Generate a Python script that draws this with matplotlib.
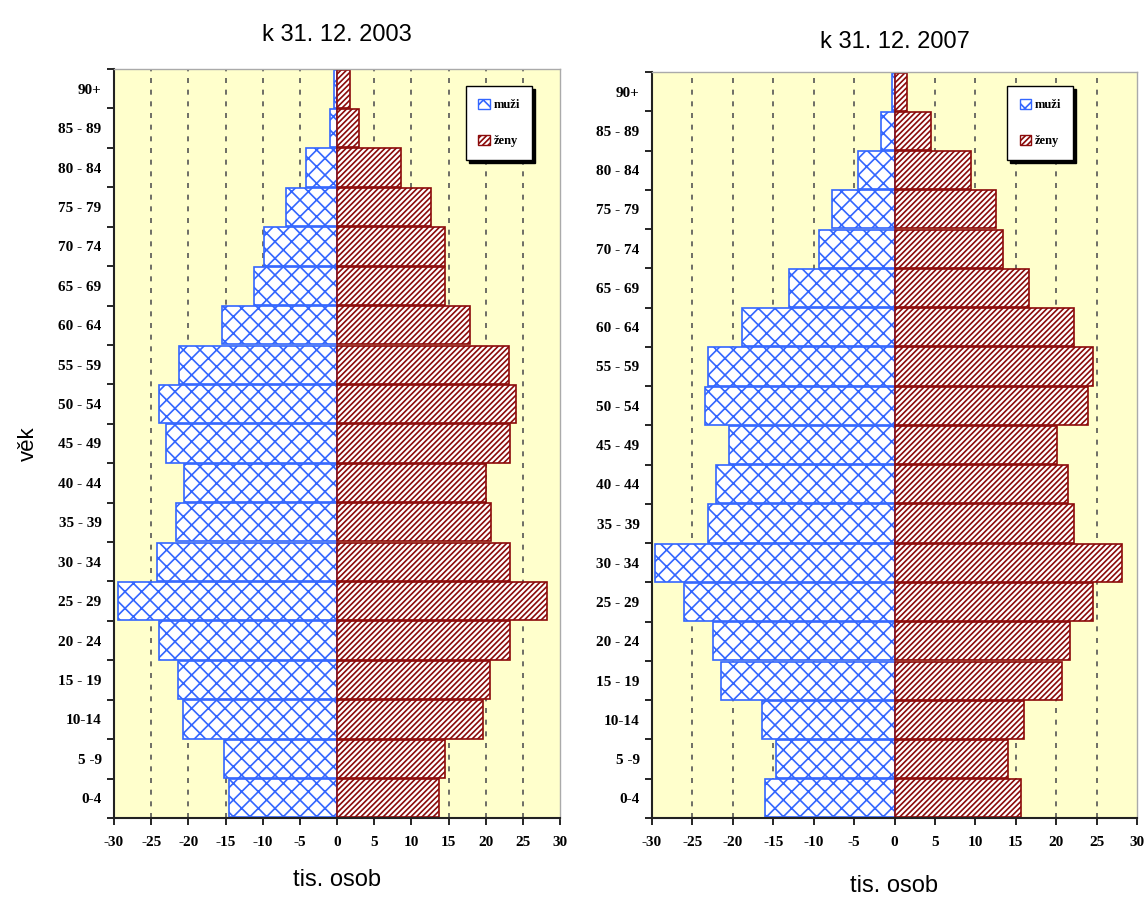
import matplotlib
matplotlib.use("Agg")
import matplotlib.pyplot as plt
import numpy as np
from matplotlib.patches import Patch

age_groups = ["0-4", "5 -9", "10-14", "15 - 19", "20 - 24", "25 - 29", "30 - 34",
              "35 - 39", "40 - 44", "45 - 49", "50 - 54", "55 - 59", "60 - 64",
              "65 - 69", "70 - 74", "75 - 79", "80 - 84", "85 - 89", "90+"]

male_2003 = [14.5, 15.2, 20.7, 21.4, 23.9, 29.5, 24.2, 21.7, 20.6, 23.0,
             23.9, 21.2, 15.5, 11.2, 9.8, 6.9, 4.2, 1.0, 0.4]
female_2003 = [13.7, 14.5, 19.6, 20.6, 23.3, 28.3, 23.3, 20.7, 20.1, 23.3,
               24.1, 23.2, 17.9, 14.5, 14.5, 12.6, 8.6, 2.9, 1.8]
male_2007 = [16.0, 14.7, 16.4, 21.5, 22.4, 26.1, 29.6, 23.1, 22.1, 20.5,
             23.4, 23.1, 18.9, 13.1, 9.3, 7.7, 4.5, 1.7, 0.3]
female_2007 = [15.7, 14.0, 16.0, 20.7, 21.7, 24.6, 28.2, 22.2, 21.5, 20.1,
               23.9, 24.6, 22.2, 16.7, 13.4, 12.6, 9.5, 4.5, 1.5]

titles = ["k 31. 12. 2003", "k 31. 12. 2007"]
legend_labels = ["muži", "ženy"]
xticks = list(range(-30, 31, 5))

BLUE = "#3366FF"
RED = "#8B0A0A"
BG = "#FFFFCC"

plt.rcParams["hatch.linewidth"] = 1.2

fig = plt.figure(figsize=(11.44, 9.01), dpi=100)
ax_rects = [
    [114 / 1144, (901 - 818) / 901, 446 / 1144, (818 - 69) / 901],
    [652 / 1144, (901 - 818) / 901, 485 / 1144, (818 - 72) / 901],
]
legend_anchor = [(0.789, 0.977), (0.732, 0.981)]
xlabel_pad = [14, 19]
title_pad = [20, 17]

datasets = [(male_2003, female_2003), (male_2007, female_2007)]
serif = "Liberation Serif"
sans = "Liberation Sans"

for i, (rect, (m, f)) in enumerate(zip(ax_rects, datasets)):
    ax = fig.add_axes(rect)
    ax.set_facecolor(BG)
    y = np.arange(len(age_groups))
    for xv in xticks:
        if xv not in (-30, 0, 30):
            ax.axvline(xv, color="#555555", linestyle=(0, (3, 4)), linewidth=1.2, zorder=1)
    ax.barh(y, -np.array(m), height=0.97, color="white", edgecolor=BLUE,
            hatch="xx", linewidth=1.2, zorder=2)
    ax.barh(y, np.array(f), height=0.97, color="white", edgecolor=RED,
            hatch="//////", linewidth=1.2, zorder=2)
    ax.set_xlim(-30, 30)
    ax.set_ylim(-0.5, len(age_groups) - 0.5)
    ax.set_xticks(xticks)
    ax.set_xticklabels([str(v) for v in xticks], fontfamily=serif,
                       fontweight="bold", fontsize=11)
    ax.set_yticks(y)
    ax.set_yticklabels(age_groups, fontfamily=serif, fontweight="bold", fontsize=11)
    ax.set_yticks(np.arange(-0.5, len(age_groups), 1.0), minor=True)
    ax.tick_params(axis="y", which="major", length=0, pad=9)
    ax.tick_params(axis="y", which="minor", length=5, width=1.2, direction="out")
    ax.tick_params(axis="x", which="major", length=5, width=1.2, direction="out", pad=8)
    for side in ("left", "bottom"):
        ax.spines[side].set_color("#222222")
        ax.spines[side].set_linewidth(1.5)
    for side in ("top", "right"):
        ax.spines[side].set_color("#AAAAAA")
        ax.spines[side].set_linewidth(1.0)
    ax.set_title(titles[i], fontfamily=sans, fontsize=17, pad=title_pad[i])
    ax.set_xlabel("tis. osob", fontfamily=sans, fontsize=17, labelpad=xlabel_pad[i])
    if i == 0:
        ax.set_ylabel("věk", fontfamily=sans, fontsize=16, labelpad=14)
    handles = [Patch(facecolor="white", edgecolor=BLUE, hatch="xx"),
               Patch(facecolor="white", edgecolor=RED, hatch="//////")]
    leg = ax.legend(handles, legend_labels, loc="upper left",
                    bbox_to_anchor=legend_anchor[i], fancybox=False,
                    shadow={"color": "black", "alpha": 1.0}, framealpha=1,
                    edgecolor="black", handlelength=0.9, handleheight=0.9,
                    handletextpad=0.3, labelspacing=1.9, borderpad=1.0,
                    borderaxespad=0.0,
                    prop={"family": serif, "weight": "bold", "size": 9})
    leg.get_frame().set_linewidth(1.0)

fig.savefig("out.png", dpi=100, facecolor="white")
